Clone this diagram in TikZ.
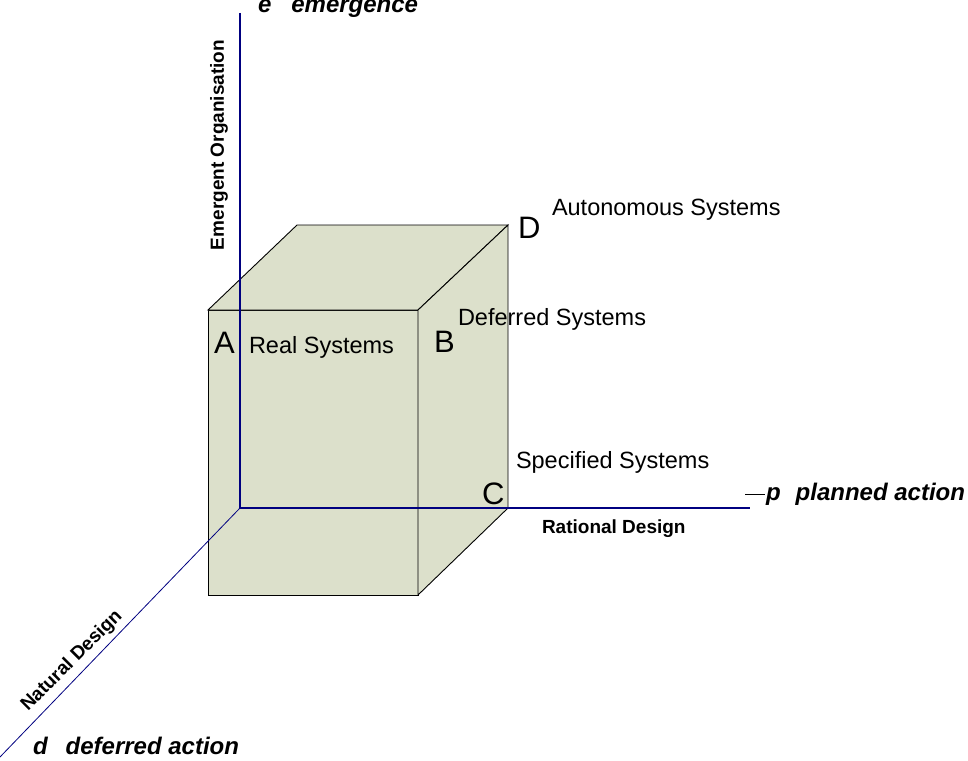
\documentclass[tikz,border=0pt]{standalone}
\usepackage{fontspec}
\setmainfont{Liberation Sans}
\definecolor{cubefill}{HTML}{DCE0CB}
\definecolor{axisblue}{HTML}{000080}
\begin{document}
\begin{tikzpicture}[x=1pt,y=-1pt,
  every node/.style={inner sep=0pt,outer sep=0pt,anchor=base west},
  corner/.style={font=\fontsize{31}{36}\selectfont},
  syslabel/.style={font=\fontsize{23.5}{28}\selectfont},
  axislabel/.style={font=\fontsize{24}{29}\selectfont\bfseries\itshape},
  designlabel/.style={font=\fontsize{19}{23}\selectfont\bfseries},
  cubeline/.style={draw=black,line width=0.9pt,fill=cubefill,line join=miter},
  mainaxis/.style={draw=axisblue,line width=2.6pt},
  thinaxis/.style={draw=axisblue,line width=0.8pt}]
\useasboundingbox (0,0) rectangle (968,760);
% cube corners
\coordinate (ftl) at (208,310);
\coordinate (ftr) at (418,310);
\coordinate (fbl) at (208,595);
\coordinate (fbr) at (418,595);
\coordinate (btl) at (297,225);
\coordinate (btr) at (508,225);
\coordinate (bbr) at (508,508);
% faces
\path[cubeline] (ftl) -- (ftr) -- (fbr) -- (fbl) -- cycle;
\path[cubeline] (ftl) -- (btl) -- (btr) -- (ftr) -- cycle;
\path[cubeline] (ftr) -- (btr) -- (bbr) -- (fbr) -- cycle;
% axes
\coordinate (O) at (240,508);
\coordinate (Etop) at (240,13);
\coordinate (Pend) at (750,508);
\coordinate (Dend) at (0,757);
\draw[mainaxis] (Etop) -- (O) -- (Pend);
\draw[thinaxis] (O) -- (Dend);
% axis labels
\node[axislabel] (elab) at (258,13) {e\hspace{20pt}emergence};
\coordinate (dashL) at (745,494);
\coordinate (dashR) at (765,494);
\draw[line width=0.8pt] (dashL) -- (dashR);
\node[axislabel] (plab) at (766,500) {p\hspace{15pt}planned action};
\node[axislabel] (dlab) at (33,754) {d\hspace{18pt}deferred action};
\node[designlabel,rotate=90,anchor=center] (eo) at (219,145) {Emergent Organisation};
\node[designlabel] (rd) at (542,533) {Rational Design};
\node[designlabel,rotate=45,anchor=center] (nd) at (72,661) {Natural Design};
% corner labels
\node[corner] (A) at (214,353) {A};
\node[syslabel] (real) at (249,353) {Real Systems};
\node[corner] (B) at (434,352) {B};
\node[syslabel] (deferred) at (458,325) {Deferred Systems};
\node[corner] (C) at (482,504) {C};
\node[syslabel] (specified) at (516,468) {Specified Systems};
\node[corner] (D) at (518,238) {D};
\node[syslabel] (autonomous) at (552,215) {Autonomous Systems};
\end{tikzpicture}
\end{document}
